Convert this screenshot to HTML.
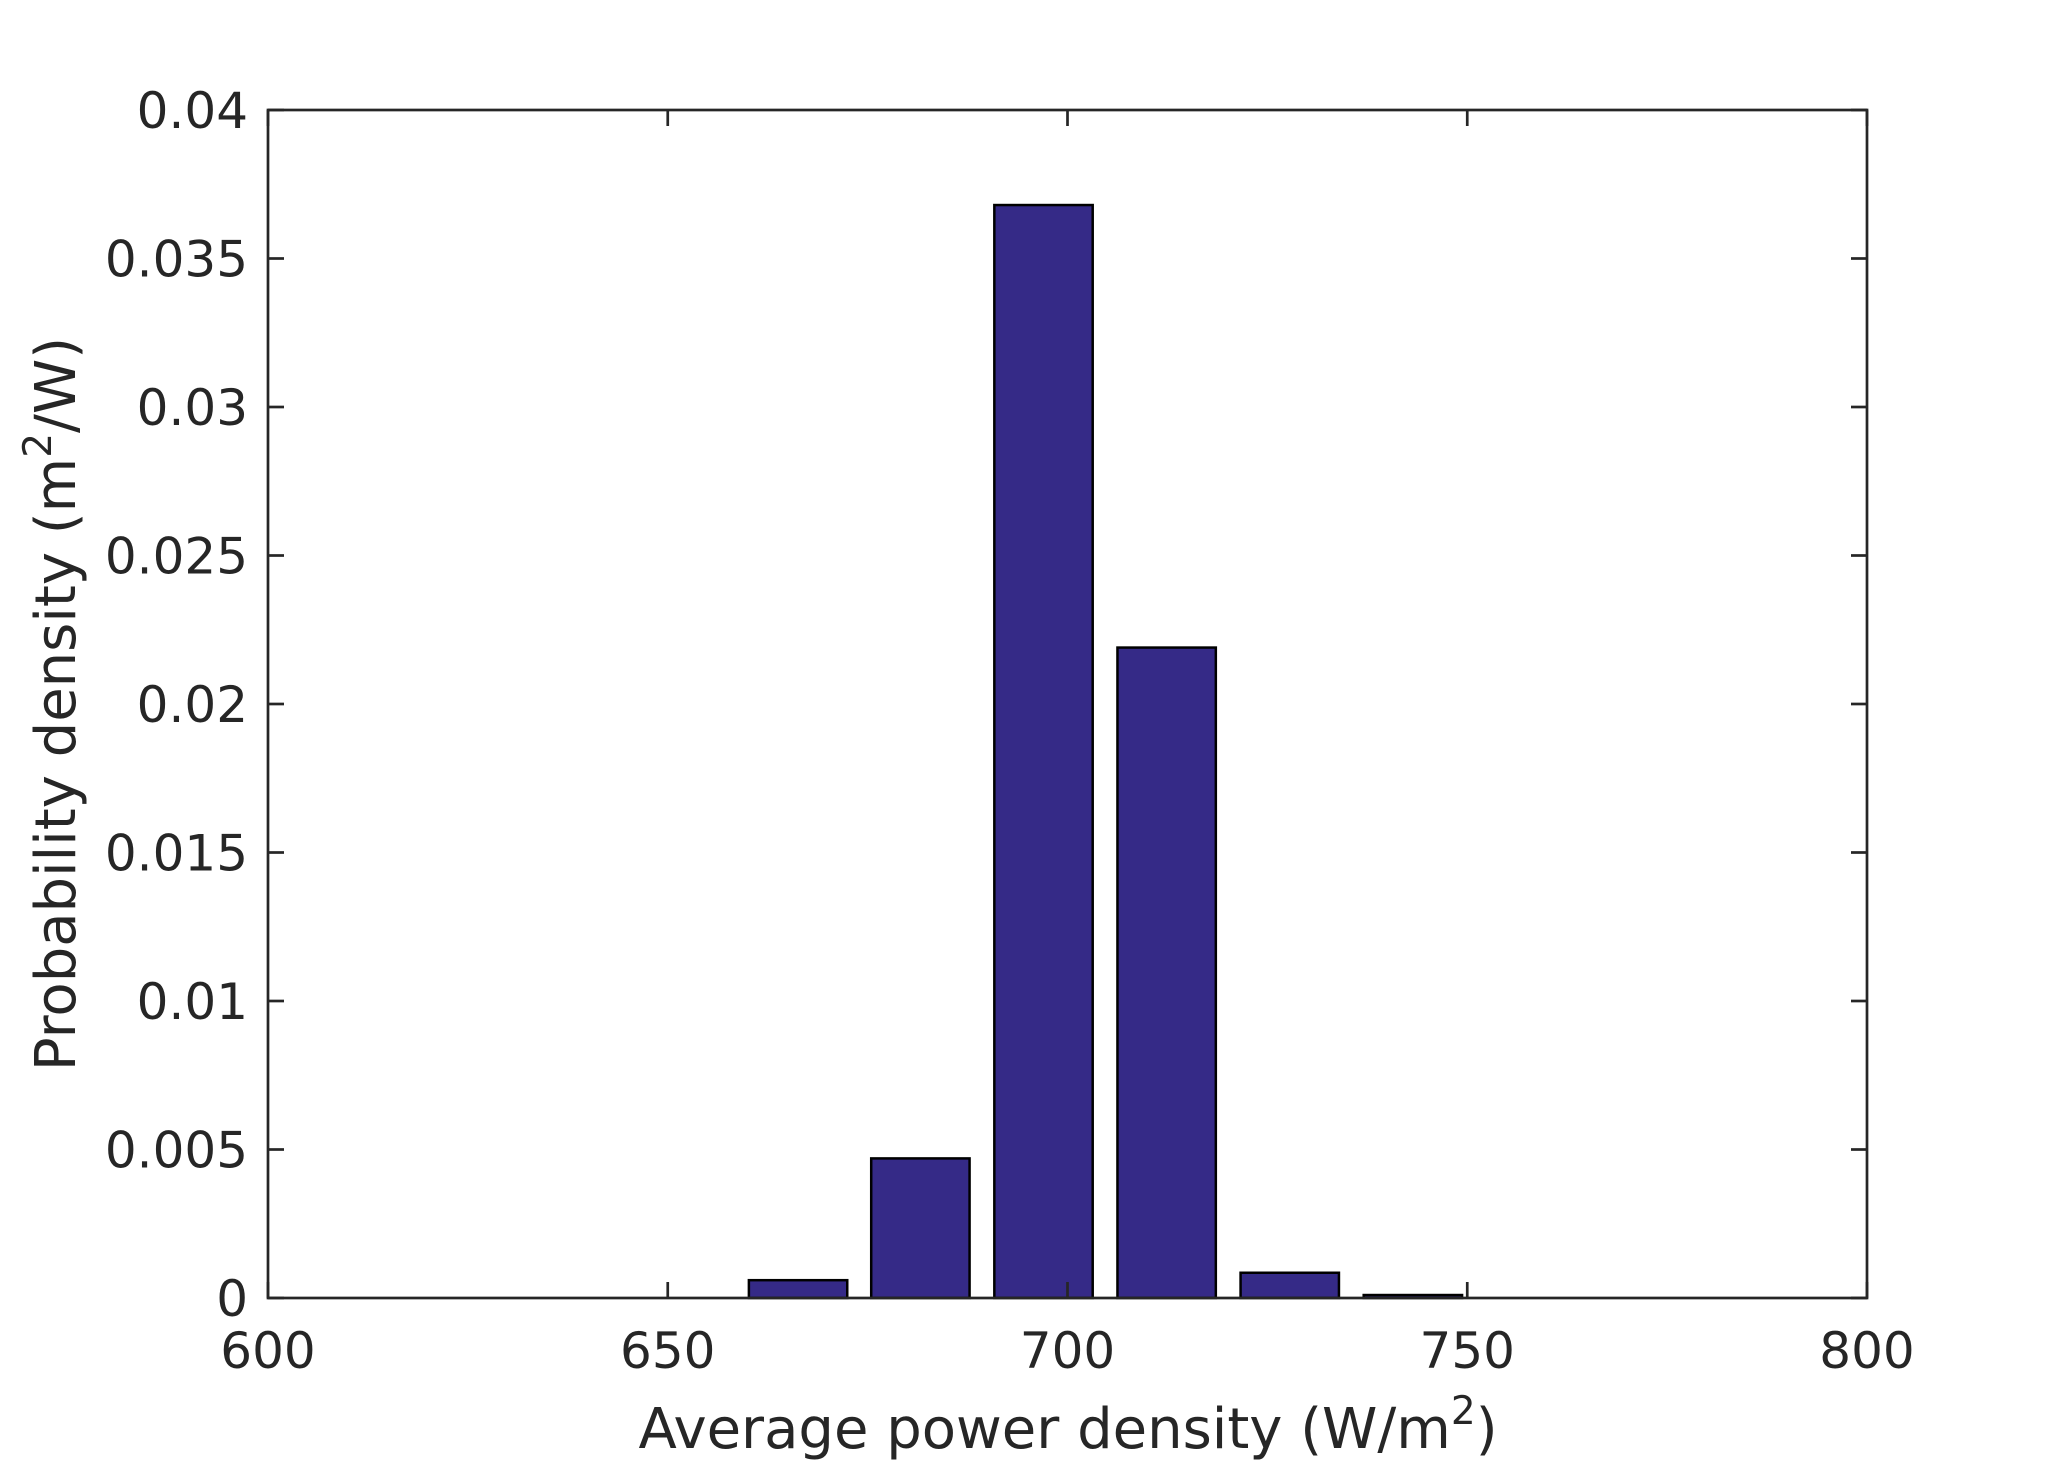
<!DOCTYPE html>
<html><head><meta charset="utf-8"><style>
html,body{margin:0;padding:0;background:#fff;}
svg{display:block;font-family:"DejaVu Sans","Liberation Sans",sans-serif;}
</style></head><body>
<svg id="chart" width="2062" height="1463" viewBox="0 0 2062 1463">
<rect x="0" y="0" width="2062" height="1463" fill="#fff"/>
<g id="bars"></g>
<g id="axes"></g>
<text x="1068" y="1448" font-size="56" fill="#262626" text-anchor="middle">Average power density (W/m<tspan dy="-24" font-size="39">2</tspan><tspan dy="24">)</tspan></text>
<text transform="translate(75,704) rotate(-90)" font-size="56" fill="#262626" text-anchor="middle">Probability density (m<tspan dy="-24" font-size="39">2</tspan><tspan dy="24">/W)</tspan></text>
</svg>
<script>
const binCenters = [666.3, 681.6, 697.0, 712.4, 727.8, 743.2];
const densities = [0.0006, 0.0047, 0.0368, 0.0219, 0.00085, 0.0001];
const xTicks = [600, 650, 700, 750, 800];
const yTicks = [0, 0.005, 0.01, 0.015, 0.02, 0.025, 0.03, 0.035, 0.04];
const yTickLabels = ["0","0.005","0.01","0.015","0.02","0.025","0.03","0.035","0.04"];
const binWidth = 15.38;

const L=268,R=1867,T=110,B=1298;
const xs=v=>L+(v-600)/200*(R-L);
const ys=v=>B-(v/0.04)*(B-T);
const NS="http://www.w3.org/2000/svg";
const bars=document.getElementById('bars'), axes=document.getElementById('axes');
function mk(tag,attrs,parent){const e=document.createElementNS(NS,tag);for(const k in attrs)e.setAttribute(k,attrs[k]);parent.appendChild(e);return e;}
binCenters.forEach((c,i)=>{
  const x0=xs(c-binWidth*0.4), x1=xs(c+binWidth*0.4);
  const r=mk('rect',{x:x0,y:ys(densities[i]),width:x1-x0,height:B-ys(densities[i]),fill:'#352a87',stroke:'#000','stroke-width':2.5},bars);
  
  
});
const box=mk('rect',{x:L,y:T,width:R-L,height:B-T,fill:'none',stroke:'#262626','stroke-width':2.7},axes);


xTicks.forEach(v=>{
  const x=xs(v);
  mk('line',{x1:x,y1:B,x2:x,y2:B-16,stroke:'#262626','stroke-width':2.7},axes);
  mk('line',{x1:x,y1:T,x2:x,y2:T+16,stroke:'#262626','stroke-width':2.7},axes);
  const t=mk('text',{x:x,y:1368,'font-size':50,fill:'#262626','text-anchor':'middle'},axes);
  t.textContent=v;
  
  
});
yTicks.forEach((v,i)=>{
  const y=ys(v);
  mk('line',{x1:L,y1:y,x2:L+16,y2:y,stroke:'#262626','stroke-width':2.7},axes);
  mk('line',{x1:R,y1:y,x2:R-16,y2:y,stroke:'#262626','stroke-width':2.7},axes);
  const t=mk('text',{x:248,y:y+18,'font-size':50,fill:'#262626','text-anchor':'end'},axes);
  t.textContent=yTickLabels[i];
  
  
});
</script>
</body></html>
